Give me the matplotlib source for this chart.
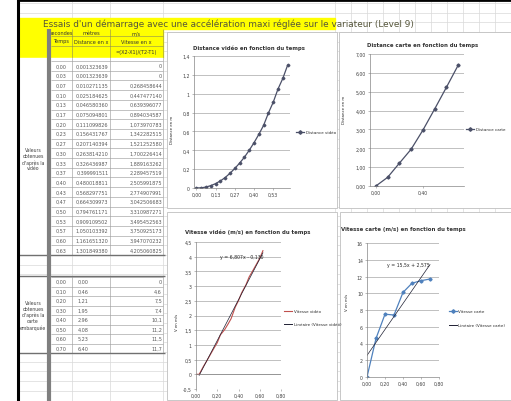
import numpy as np
import matplotlib.pyplot as plt
from matplotlib.patches import Rectangle

plt.rcParams['font.family'] = ['Liberation Sans Narrow', 'DejaVu Sans']

TITRE = "Essais d'un démarrage avec une accélération maxi réglée sur le variateur (Level 9)"

# valeurs obtenues d'après la vidéo
t_video = [0.00, 0.03, 0.07, 0.10, 0.13, 0.17, 0.20, 0.23, 0.27, 0.30,
           0.33, 0.37, 0.40, 0.43, 0.47, 0.50, 0.53, 0.57, 0.60, 0.63]
d_video = [0.001323639, 0.001323639, 0.010271135, 0.025184625, 0.046580360,
           0.075094801, 0.111099826, 0.156431767, 0.207140394, 0.263814210,
           0.326436987, 0.399991511, 0.480018811, 0.568297751, 0.664309973,
           0.794761171, 0.909109502, 1.050103392, 1.161651320, 1.301849380]
v_video = [0, 0, 0.268458644, 0.447477140, 0.639396077, 0.894034587,
           1.073970783, 1.342282515, 1.521252580, 1.700226414, 1.889163262,
           2.289457519, 2.505991875, 2.774907991, 3.042506683, 3.310987271,
           3.495452563, 3.750925173, 3.947070232, 4.205060825]

# valeurs obtenues d'après la carte embarquée
t_carte = [0.00, 0.10, 0.20, 0.30, 0.40, 0.50, 0.60, 0.70]
d_carte = [0.00, 0.46, 1.21, 1.95, 2.96, 4.08, 5.23, 6.40]
v_carte = [0, 4.6, 7.5, 7.4, 10.1, 11.2, 11.5, 11.7]

W, H = 511, 402
fig = plt.figure(figsize=(W / 100, H / 100), dpi=100)
bg = fig.add_axes([0, 0, 1, 1])
bg.set_xlim(0, W)
bg.set_ylim(H, 0)
bg.axis('off')


def px_axes(x0, y0, x1, y1):
    return fig.add_axes([x0 / W, (H - y1) / H, (x1 - x0) / W, (y1 - y0) / H])


def virgule(v, n):
    return f"{v:.{n}f}".replace('.', ',')


def hline(y, x0, x1, c='#d9d9d9', lw=0.5, z=1):
    bg.plot([x0, x1], [y, y], color=c, lw=lw, zorder=z, solid_capstyle='butt')


def vline(x, y0, y1, c='#d9d9d9', lw=0.5, z=1):
    bg.plot([x, x], [y0, y1], color=c, lw=lw, zorder=z, solid_capstyle='butt')


# --- fond de la feuille de calcul
for k in range(-6, 40):
    hline(62 + 9.7 * k, 19, W)
for x in [72, 110, 163] + list(range(335, W, 16)):
    vline(x, 2, H)
bg.add_patch(Rectangle((0, 0), 17, H, color='white', zorder=2))
vline(18, 0, H, c='black', lw=2.2, z=6)
hline(1, 17, W, c='black', lw=2.0, z=6)

# bandeau titre
bg.add_patch(Rectangle((19, 18.5), 316, 11.5, color='#ffff00', zorder=3))
bg.text(43, 24.5, TITRE, fontsize=6.4, color='#55553a', va='center', zorder=4)

# en-tête du tableau
bg.add_patch(Rectangle((19, 30), 144, 29, color='#ffff00', zorder=3))
for y in (37, 47):
    hline(y, 51, 163, c='#8a8a5a', lw=0.4, z=4)
for x in (72, 110, 163):
    vline(x, 30, 59, c='#8a8a5a', lw=0.4, z=4)
fs_h = 3.6
for txt, x in (("secondes", 61), ("mètres", 91), ("m/s", 136)):
    bg.text(x, 33.5, txt, fontsize=fs_h, ha='center', va='center', color='#333333', zorder=5)
for txt, x in (("Temps", 61), ("Distance en x", 91), ("Vitesse en x", 136)):
    bg.text(x, 42, txt, fontsize=fs_h, ha='center', va='center', color='#333333', zorder=5)
bg.text(136, 52.5, "=(X2-X1)/(T2-T1)", fontsize=fs_h, ha='center', va='center',
        color='#333333', zorder=5)

# zones blanches des tableaux
bg.add_patch(Rectangle((19, 59), 144, 197, color='white', zorder=3))
bg.add_patch(Rectangle((19, 277), 144, 77, color='white', zorder=3))

fs_c = 3.5
c_txt = '#5a5a5a'
row_h = 9.7
y0 = 62
for i, (t, d, v) in enumerate(zip(t_video, d_video, v_video)):
    yc = y0 + row_h * (i + 0.5)
    hline(y0 + row_h * i, 51, 163, c='#a0a0a0', lw=0.45, z=4)
    bg.text(61.5, yc, virgule(t, 2), fontsize=fs_c, ha='center', va='center', color=c_txt, zorder=5)
    bg.text(108.5, yc, virgule(d, 9), fontsize=fs_c, ha='right', va='center', color=c_txt, zorder=5)
    bg.text(162, yc, "0" if v == 0 else virgule(v, 9), fontsize=fs_c, ha='right',
            va='center', color=c_txt, zorder=5)
for x in (72, 110, 163):
    vline(x, 59, 256, c='#a0a0a0', lw=0.45, z=4)

row_c = 9.5
y1 = 278
for i, (t, d, v) in enumerate(zip(t_carte, d_carte, v_carte)):
    yc = y1 + row_c * (i + 0.5)
    hline(y1 + row_c * i, 51, 163, c='#a0a0a0', lw=0.45, z=4)
    bg.text(61.5, yc, virgule(t, 2), fontsize=fs_c, ha='center', va='center', color=c_txt, zorder=5)
    bg.text(83, yc, virgule(d, 2), fontsize=fs_c, ha='center', va='center', color=c_txt, zorder=5)
    bg.text(162, yc, "0" if v == 0 else virgule(v, 1), fontsize=fs_c, ha='right',
            va='center', color=c_txt, zorder=5)
for x in (72, 110, 163):
    vline(x, 277, 354, c='#a0a0a0', lw=0.45, z=4)

for y in (256, 277, 354):
    hline(y, 19, 165, c='#707070', lw=1.0, z=5)
vline(49, 30, H, c='#7f7f7f', lw=3.0, z=6)

bg.text(33, 160, "Valeurs\nobtenues\nd'après la\nvidéo", fontsize=3.3, ha='center',
        va='center', color='#404040', linespacing=1.2, zorder=5)
bg.text(33, 316, "Valeurs\nobtenues\nd'après la\ncarte\nembarquée", fontsize=3.3,
        ha='center', va='center', color='#404040', linespacing=1.2, zorder=5)

# cadres des graphiques
for (x0, yy0, x1, yy1) in ((167, 33, 337, 209), (339, 33, 512, 209),
                          (167, 213, 337, 401), (340, 213, 512, 401)):
    bg.add_patch(Rectangle((x0, yy0), x1 - x0, yy1 - yy0, facecolor='white',
                           edgecolor='#bfbfbf', lw=0.6, zorder=7))

fs_t = 3.3
fs_leg = 2.9
c_axe = '#868686'
c_grid = '#a6a6a6'


def style(ax):
    ax.set_facecolor('none')
    for s in ('top', 'right'):
        ax.spines[s].set_visible(False)
    for s in ('left', 'bottom'):
        ax.spines[s].set_color(c_axe)
        ax.spines[s].set_linewidth(0.5)
    ax.tick_params(labelsize=fs_t, colors='#404040', length=1.5, width=0.4, pad=1.5)
    ax.tick_params(axis='both', color=c_axe)
    ax.grid(axis='y', color=c_grid, lw=0.5)
    ax.set_axisbelow(True)


def titre(x, y, txt):
    bg.text(x, y, txt, fontsize=3.9, fontweight='bold', ha='center', va='center',
            color='#333333', zorder=8)


def legende(x, y, txt, color, marker=None, lw=0.9):
    bg.plot([x, x + 8], [y, y], color=color, lw=lw, zorder=8)
    if marker:
        bg.plot([x + 4], [y], marker=marker, ms=1.8, color=color, zorder=8)
    bg.text(x + 9.5, y, txt, fontsize=fs_leg, va='center', color='#262626', zorder=8)


def lab_y(x, y, txt):
    bg.text(x, y, txt, fontsize=2.8, rotation=90, ha='center', va='center',
            color='#262626', zorder=8)


# --- graphique 1 : distance vidéo
c_dist = '#4b5068'
ax1 = px_axes(194, 57, 290, 189)
xi = np.arange(len(t_video))
ax1.plot(xi, d_video, color=c_dist, lw=0.9, marker='D', ms=1.4)
ax1.set_xlim(-0.5, len(t_video) - 0.5)
ax1.set_ylim(0, 1.4)
yt = np.round(np.arange(0, 1.41, 0.2), 1)
ax1.set_yticks(yt, [str(int(v)) if v in (0, 1) else virgule(v, 1) for v in yt])
ax1.set_xticks(xi[::4], [virgule(t_video[i], 2) for i in xi[::4]])
style(ax1)
titre(249, 48, "Distance vidéo en fonction du temps")
legende(296, 133, "Distance vidéo", c_dist, 'D')
lab_y(172, 130, "Distance en m")

# --- graphique 2 : distance carte
ax2 = px_axes(370, 55, 464, 187)
xc = np.arange(len(t_carte))
ax2.plot(xc, d_carte, color=c_dist, lw=0.9, marker='D', ms=1.6)
ax2.set_xlim(-0.5, len(t_carte) - 0.5)
ax2.set_ylim(0, 7)
ax2.set_yticks(range(8), [virgule(v, 2) for v in range(8)])
ax2.set_xticks(xc[::4], [virgule(t_carte[i], 2) for i in xc[::4]])
style(ax2)
titre(423, 45, "Distance carte en fonction du temps")
legende(466, 130, "Distance carte", c_dist, 'D')
lab_y(344, 110, "Distance en m")

# --- graphique 3 : vitesse vidéo
ax3 = px_axes(196, 243, 281, 390)
ax3.plot(t_video, v_video, color='#c0504d', lw=0.8)
p3 = np.polyfit(t_video, v_video, 1)
tx = np.array([t_video[1], t_video[-1]])
ax3.plot(tx, np.polyval(p3, tx), color='#1f2033', lw=0.5)
ax3.axhline(0, color=c_axe, lw=0.5)
ax3.set_xlim(0, 0.8)
ax3.set_ylim(-0.5, 4.5)
yt = np.round(np.arange(-0.5, 4.51, 0.5), 1)
ax3.set_yticks(yt, [str(int(v)) if float(v).is_integer() else virgule(v, 1) for v in yt])
xt = np.round(np.arange(0, 0.81, 0.2), 1)
ax3.set_xticks(xt, [virgule(v, 2) for v in xt])
style(ax3)
ax3.spines['bottom'].set_visible(False)
ax3.text(0.43, 4.02, "y = 6,807x - 0,130", fontsize=fs_t, ha='center', va='center',
         color='#262626')
titre(248, 232, "Vitesse vidéo (m/s) en fonction du temps")
legende(284, 312, "Vitesse vidéo", '#c0504d', lw=0.8)
legende(284, 325, "Linéaire (Vitesse vidéo)", '#1f2033', lw=0.7)
lab_y(177, 322, "V en m/s")

# --- graphique 4 : vitesse carte
c_v = '#4f81bd'
ax4 = px_axes(367, 244, 439, 378)
ax4.plot(t_carte, v_carte, color=c_v, lw=0.9, marker='D', ms=1.6)
p4 = np.polyfit(t_carte, v_carte, 1)
tx = np.array([t_carte[0], t_carte[-1]])
ax4.plot(tx, np.polyval(p4, tx), color='#1f2033', lw=0.5)
ax4.set_xlim(0, 0.8)
ax4.set_ylim(0, 16)
ax4.set_yticks(range(0, 17, 2))
ax4.set_xticks(xt, [virgule(v, 2) for v in xt])
style(ax4)
ax4.text(0.46, 13.4, "y = 15,5x + 2,575", fontsize=fs_t, ha='center', va='center',
         color='#262626')
titre(403, 230, "Vitesse carte (m/s) en fonction du temps")
legende(449, 312, "Vitesse carte", c_v, 'D')
legende(449, 326, "Linéaire (Vitesse carte)", '#1f2033', lw=0.7)
lab_y(347, 302, "V en m/s")

fig.savefig('out.png', dpi=100)
